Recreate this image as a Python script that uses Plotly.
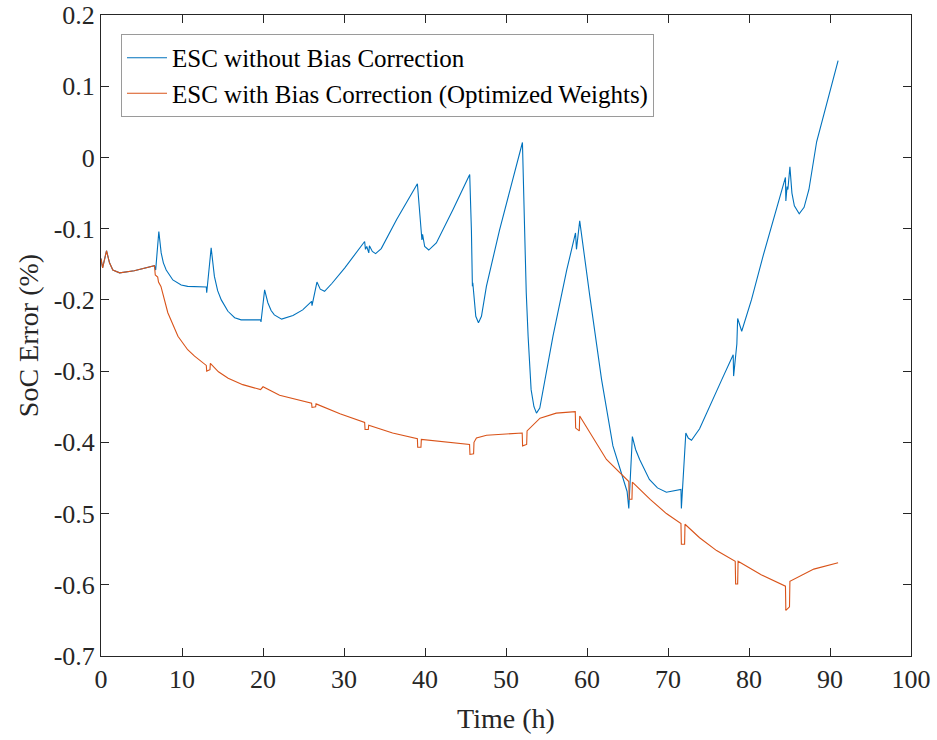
import plotly.graph_objects as go

# ---------------- data ----------------
blue_t = [0.0, 0.2, 0.68, 1.05, 1.46, 2.3, 4.1, 6.6, 6.75, 7.14, 7.43, 7.7, 8.05, 8.87, 9.9, 10.7,
          13.0, 13.05, 13.6, 14.0, 14.4, 14.85, 15.67, 16.5, 17.3, 19.7, 19.75, 20.2, 20.6, 21.0, 21.4,
          22.3, 23.7, 24.9, 26.0, 26.05, 26.66, 27.07, 27.6, 28.5, 30.1, 32.55, 32.65, 32.81,
          33.06, 33.14, 33.5, 33.9, 34.6, 36.5, 39.06, 39.35, 39.55, 39.62, 39.7, 39.96, 40.46, 41.4,
          43.46, 45.52, 45.73, 45.85, 45.9, 46.27, 46.6, 46.97, 47.58, 49.2, 52.03, 52.3,
          52.45, 52.5, 52.73, 53.1, 53.45, 53.76, 54.17, 55.8, 57.5, 58.58, 58.7, 59.1, 60.35,
          61.8, 63.2, 64.95, 65.16, 65.6, 66.0, 66.5, 67.7, 68.7, 69.8, 71.6, 71.65, 72.2, 72.5, 72.9, 73.9,
          75.2, 76.6, 78.05, 78.1, 78.5, 78.6, 79.1, 80.3, 81.75, 84.5, 84.55, 84.7, 84.8, 85.05, 85.3,
          85.6, 86.2, 86.8, 87.4, 88.35, 91.0]
blue_y = [-0.142, -0.155, -0.131, -0.148, -0.158, -0.162, -0.159, -0.152, -0.158, -0.104,
          -0.134, -0.148, -0.158, -0.172, -0.179, -0.181, -0.182, -0.190, -0.127, -0.167, -0.187, -0.200,
          -0.216, -0.225, -0.228, -0.228, -0.231, -0.186, -0.204, -0.215, -0.221, -0.227, -0.222,
          -0.214, -0.202, -0.208, -0.175, -0.185, -0.188, -0.177, -0.155, -0.118, -0.129, -0.125,
          -0.134, -0.124, -0.132, -0.135, -0.128, -0.087, -0.037, -0.083, -0.104, -0.116, -0.108, -0.125,
          -0.130, -0.120, -0.073, -0.024, -0.102, -0.181, -0.176, -0.223, -0.232, -0.223,
          -0.181, -0.102, 0.021, -0.102, -0.172, -0.190, -0.251, -0.326, -0.350, -0.359, -0.352,
          -0.251, -0.158, -0.106, -0.129, -0.089, -0.195, -0.312, -0.405, -0.469, -0.493,
          -0.392, -0.410, -0.424, -0.452, -0.464, -0.470, -0.466, -0.493, -0.387, -0.394, -0.397, -0.381,
          -0.347, -0.313, -0.277, -0.307, -0.262, -0.226, -0.244, -0.200, -0.138, -0.028, -0.061, -0.041,
          -0.045, -0.013, -0.050, -0.068, -0.079, -0.070, -0.045, 0.022, 0.136]

orange_t = [0.0, 0.2, 0.68, 1.05, 1.46, 2.3, 4.1, 6.6, 6.7, 7.0, 7.1, 7.4, 8.25, 9.5, 10.7, 11.55,
            13.0, 13.05, 13.45, 13.5, 14.5, 15.7, 17.5, 19.7, 20.0, 22.05, 26.0, 26.05, 26.5, 26.55,
            29.5, 32.55, 32.6, 33.0, 33.05, 36.0, 39.06, 39.1, 39.5, 39.55, 45.5, 45.55, 46.0, 46.05,
            46.35, 47.6, 52.0, 52.05, 52.55, 52.6, 54.2, 56.2, 58.55, 58.6, 59.05, 59.1,
            62.4, 64.05, 65.16, 65.2, 65.55, 65.6, 67.8, 69.8, 71.6, 71.65, 72.05, 72.1,
            73.9, 76.0, 78.3, 78.35, 78.6, 78.65, 81.5, 84.5, 84.55, 85.0, 85.05, 88.0, 91.0]
orange_y = [-0.142, -0.155, -0.131, -0.148, -0.158, -0.162, -0.159, -0.152, -0.165, -0.168,
            -0.175, -0.181, -0.218, -0.251, -0.270, -0.279, -0.292, -0.300, -0.298, -0.289, -0.301,
            -0.310, -0.319, -0.326, -0.322, -0.334, -0.345, -0.351, -0.350, -0.346, -0.360,
            -0.372, -0.382, -0.382, -0.376, -0.387, -0.395, -0.407, -0.407, -0.396, -0.403, -0.417,
            -0.416, -0.400, -0.394, -0.390, -0.387, -0.405, -0.403, -0.384, -0.366, -0.359,
            -0.357, -0.380, -0.384, -0.363, -0.424, -0.443, -0.455, -0.480, -0.480, -0.456,
            -0.480, -0.500, -0.514, -0.543, -0.543, -0.515, -0.534, -0.552, -0.567, -0.599,
            -0.599, -0.567, -0.586, -0.602, -0.636, -0.631, -0.595, -0.578, -0.569]

series_names = ["ESC without Bias Correction", "ESC with Bias Correction (Optimized Weights)"]
x_ticks = [0, 10, 20, 30, 40, 50, 60, 70, 80, 90, 100]
y_ticks = [-0.7, -0.6, -0.5, -0.4, -0.3, -0.2, -0.1, 0, 0.1, 0.2]
y_ticktext = ["-0.7", "-0.6", "-0.5", "-0.4", "-0.3", "-0.2", "-0.1", "0", "0.1", "0.2"]

# ---------------- figure ----------------
FONT = "Liberation Serif, Times New Roman, serif"
AXC = "#262626"

fig = go.Figure()
fig.add_trace(go.Scatter(x=blue_t, y=blue_y, mode="lines", name=series_names[0],
                         line=dict(color="#0072BD", width=1.1)))
fig.add_trace(go.Scatter(x=orange_t, y=orange_y, mode="lines", name=series_names[1],
                         line=dict(color="#D95319", width=1.1)))

axis_common = dict(showline=True, linecolor=AXC, linewidth=1, mirror="ticks",
                   ticks="inside", ticklen=8, tickcolor=AXC, tickwidth=1,
                   showgrid=False, zeroline=False, automargin=False,
                   tickfont=dict(family=FONT, size=26, color=AXC))

fig.update_xaxes(range=[0, 100], tickvals=x_ticks,
                 title=dict(text="Time (h)", font=dict(family=FONT, size=28, color=AXC)),
                 **axis_common)
fig.update_yaxes(range=[-0.7, 0.2], tickvals=y_ticks, ticktext=y_ticktext,
                 title=dict(text="SoC Error (%)", font=dict(family=FONT, size=28, color=AXC),
                            standoff=6),
                 **axis_common)

fig.update_layout(
    width=937, height=740,
    margin=dict(l=101, r=26, t=15, b=84),
    plot_bgcolor="white", paper_bgcolor="white",
    font=dict(family=FONT, color=AXC),
    legend=dict(x=0.0247, y=0.9704, xanchor="left", yanchor="top",
                bgcolor="white", bordercolor="#9a9a9a", borderwidth=1,
                font=dict(family=FONT, size=25, color="black"),
                tracegroupgap=0, itemwidth=40),
    showlegend=True,
)

fig.write_html("out.html")
